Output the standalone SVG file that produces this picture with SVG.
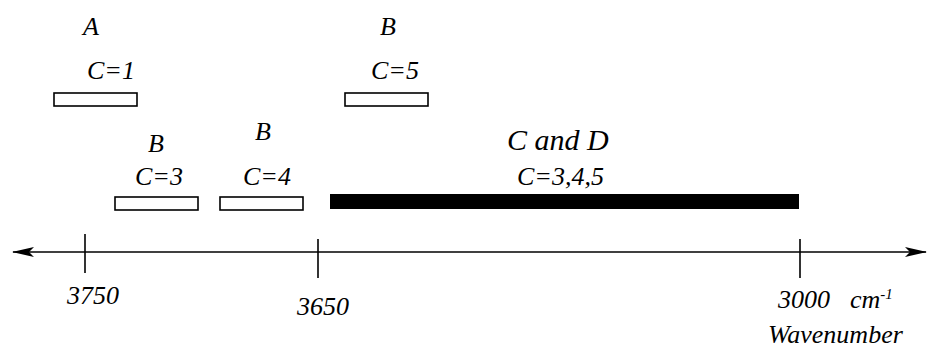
<svg xmlns="http://www.w3.org/2000/svg" width="928" height="350" viewBox="0 0 928 350">
<defs>
<marker id="ah" viewBox="0 0 22 10" refX="21" refY="5" markerWidth="22" markerHeight="10" markerUnits="userSpaceOnUse" orient="auto-start-reverse">
<path d="M0,0 L22,5 L0,10 L5,5 Z" fill="#000"/>
</marker>
</defs>
<g id="axis" stroke="#000" stroke-width="1.6" fill="none">
<line x1="13" y1="252" x2="926" y2="252" marker-start="url(#ah)" marker-end="url(#ah)"/>
<line x1="85" y1="234" x2="85" y2="273"/>
<line x1="318" y1="239" x2="318" y2="278"/>
<line x1="800" y1="239" x2="800" y2="278"/>
</g>
<text x="67" y="304" font-family="Liberation Serif" font-style="italic" font-size="26">3750</text>
<text x="297" y="315" font-family="Liberation Serif" font-style="italic" font-size="26">3650</text>
<text x="778" y="308" font-family="Liberation Serif" font-style="italic" font-size="26">3000</text>
<text x="850" y="308" font-family="Liberation Serif" font-style="italic" font-size="26">cm<tspan font-size="15" dy="-9">-1</tspan></text>
<text x="768" y="343" font-family="Liberation Serif" font-style="italic" font-size="26">Wavenumber</text>
<g id="n1">
<text x="83" y="35" font-family="Liberation Serif" font-style="italic" font-size="26">A</text>
<text x="87" y="79" font-family="Liberation Serif" font-style="italic" font-size="26">C=1</text>
<rect x="54" y="93" width="83" height="13" fill="#fff" stroke="#000" stroke-width="1.6"/>
</g>
<g id="n2">
<text x="380" y="35" font-family="Liberation Serif" font-style="italic" font-size="26">B</text>
<text x="371" y="79" font-family="Liberation Serif" font-style="italic" font-size="26">C=5</text>
<rect x="345" y="93" width="83" height="13" fill="#fff" stroke="#000" stroke-width="1.6"/>
</g>
<g id="n3">
<text x="148" y="152" font-family="Liberation Serif" font-style="italic" font-size="26">B</text>
<text x="135" y="185" font-family="Liberation Serif" font-style="italic" font-size="26">C=3</text>
<rect x="115" y="197" width="83" height="13" fill="#fff" stroke="#000" stroke-width="1.6"/>
</g>
<g id="n4">
<text x="255" y="140" font-family="Liberation Serif" font-style="italic" font-size="26">B</text>
<text x="243" y="185" font-family="Liberation Serif" font-style="italic" font-size="26">C=4</text>
<rect x="220" y="197" width="83" height="13" fill="#fff" stroke="#000" stroke-width="1.6"/>
</g>
<g id="n5">
<text x="507" y="150" font-family="Liberation Serif" font-style="italic" font-size="30">C and D</text>
<text x="517" y="185" font-family="Liberation Serif" font-style="italic" font-size="26">C=3,4,5</text>
<rect x="330" y="194" width="469" height="15" fill="#000"/>
</g>
</svg>
